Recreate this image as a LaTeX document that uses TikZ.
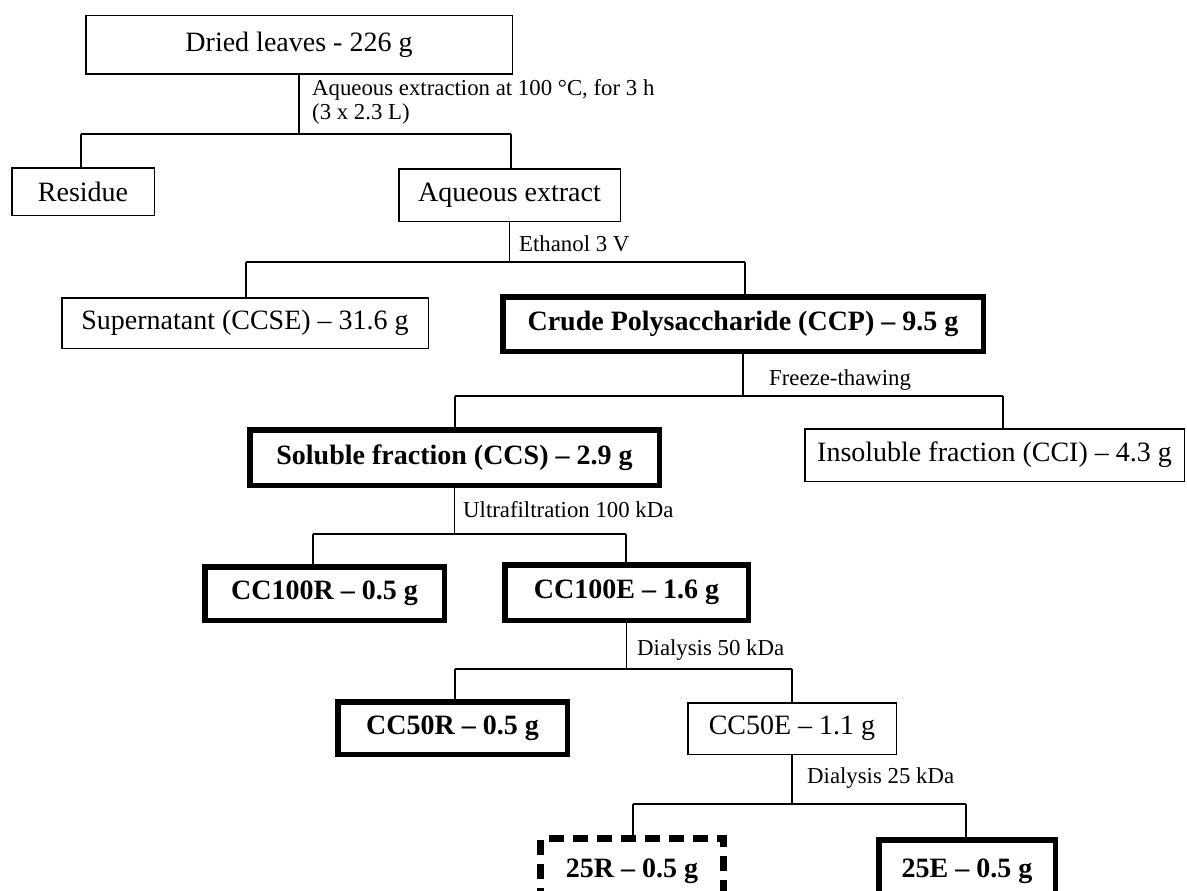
\documentclass[tikz,border=0pt]{standalone}
\usepackage{fontspec}
\setmainfont{Liberation Serif}
\begin{document}
\begin{tikzpicture}[x=1pt,y=-1pt,
  thinbox/.style={draw,line width=1.5pt,inner sep=0pt,font=\fontsize{28}{32}\selectfont},
  thickbox/.style={draw,line width=5.5pt,inner sep=0pt,font=\fontsize{28}{32}\selectfont\bfseries},
  dashbox/.style={thickbox,line width=7pt,dash pattern=on 15pt off 9pt},
  lbl/.style={anchor=west,inner sep=0pt,align=left,font=\fontsize{22.8}{24}\selectfont},
  conn/.style={line width=1.5pt}]
\path[use as bounding box,clip] (0,0) rectangle (1187,891);
% nodes
\node[thinbox,minimum width=426.5pt,minimum height=58.5pt] (dried) at (299,45) {Dried leaves - 226 g};
\node[thinbox,minimum width=142.5pt,minimum height=47.5pt] (residue) at (83,191.5) {Residue};
\node[thinbox,minimum width=221.5pt,minimum height=52.5pt] (aqext) at (509.5,195) {Aqueous extract};
\node[thinbox,minimum width=366.5pt,minimum height=50.5pt] (super) at (245,323) {Supernatant (CCSE) – 31.6 g};
\node[thickbox,minimum width=480.5pt,minimum height=54.5pt] (ccp) at (743,324) {Crude Polysaccharide (CCP) – 9.5 g};
\node[thickbox,minimum width=409.5pt,minimum height=55.5pt] (ccs) at (454.5,457.5) {Soluble fraction (CCS) – 2.9 g};
\node[thinbox,minimum width=379.5pt,minimum height=52.5pt] (insol) at (994.5,455) {Insoluble fraction (CCI) – 4.3 g};
\node[thickbox,minimum width=239.5pt,minimum height=53.5pt] (cchr) at (324.5,593.5) {CC100R – 0.5 g};
\node[thickbox,minimum width=243.5pt,minimum height=55.5pt] (cche) at (626.5,592.5) {CC100E – 1.6 g};
\node[thickbox,minimum width=229.5pt,minimum height=52.5pt] (ccfr) at (452.5,728) {CC50R – 0.5 g};
\node[thinbox,minimum width=208.5pt,minimum height=51.5pt] (ccfe) at (792,728.5) {CC50E – 1.1 g};
\node[dashbox,minimum width=183pt,minimum height=65pt] (tfr) at (632,871) {25R – 0.5 g};
\node[thickbox,minimum width=176.5pt,minimum height=62.5pt] (tfe) at (967,871) {25E – 0.5 g};
% split coordinates
\coordinate (s1l) at (81,134);   \coordinate (s1r) at (511,134);
\coordinate (s2l) at (246,262);  \coordinate (s2r) at (745,262);
\coordinate (s3l) at (455,396);  \coordinate (s3r) at (1003,396);
\coordinate (s4l) at (313,534);  \coordinate (s4r) at (626,534);
\coordinate (s5l) at (455,669);  \coordinate (s5r) at (792,669);
\coordinate (s6l) at (633,804);  \coordinate (s6r) at (966,804);
% connectors
\draw[conn] (dried.south) -- (dried.south |- s1l);
\draw[conn] (s1l) -- (s1r);
\draw[conn] (s1l) -- (s1l |- residue.north);
\draw[conn] (s1r) -- (s1r |- aqext.north);
\draw[conn] (aqext.south) -- (aqext.south |- s2l);
\draw[conn] (s2l) -- (s2r);
\draw[conn] (s2l) -- (s2l |- super.north);
\draw[conn] (s2r) -- (s2r |- ccp.north);
\draw[conn] (ccp.south) -- (ccp.south |- s3l);
\draw[conn] (s3l) -- (s3r);
\draw[conn] (s3l) -- (s3l |- ccs.north);
\draw[conn] (s3r) -- (s3r |- insol.north);
\draw[conn] (ccs.south) -- (ccs.south |- s4l);
\draw[conn] (s4l) -- (s4r);
\draw[conn] (s4l) -- (s4l |- cchr.north);
\draw[conn] (s4r) -- (s4r |- cche.north);
\draw[conn] (cche.south) -- (cche.south |- s5l);
\draw[conn] (s5l) -- (s5r);
\draw[conn] (s5l) -- (s5l |- ccfr.north);
\draw[conn] (s5r) -- (s5r |- ccfe.north);
\draw[conn] (ccfe.south) -- (ccfe.south |- s6l);
\draw[conn] (s6l) -- (s6r);
\draw[conn] (s6l) -- (s6l |- tfr.north);
\draw[conn] (s6r) -- (s6r |- tfe.north);
% labels
\node[lbl] (l1) at (312,102) {Aqueous extraction at 100 °C, for 3 h\\(3 x 2.3 L)};
\node[lbl] (l2) at (519,244) {Ethanol 3 V};
\node[lbl] (l3) at (769,380) {Freeze-thawing};
\node[lbl] (l4) at (463,510) {Ultrafiltration 100 kDa};
\node[lbl] (l5) at (637,650) {Dialysis 50 kDa};
\node[lbl] (l6) at (807,778) {Dialysis 25 kDa};
\end{tikzpicture}
\end{document}
